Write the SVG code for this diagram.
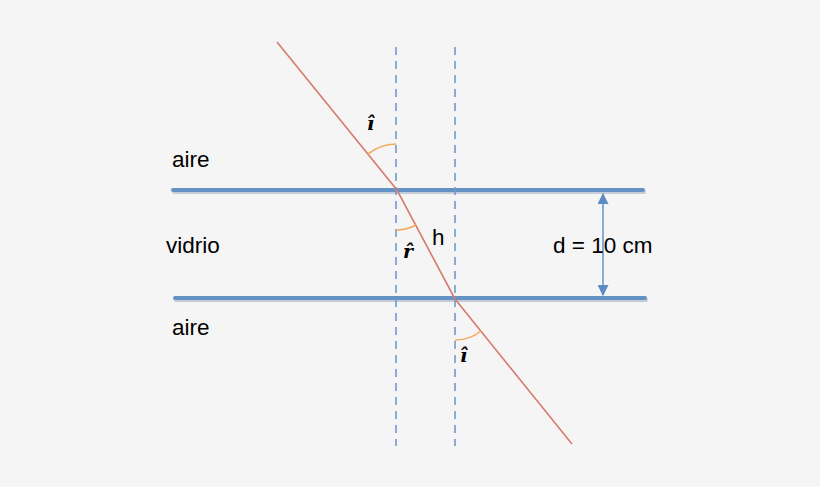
<svg xmlns="http://www.w3.org/2000/svg" width="820" height="487" viewBox="0 0 820 487">
<defs>
<style>
.lbl{font-family:"Liberation Sans",Arial,sans-serif;font-size:22.5px;fill:#000}
.ang{font-family:"DejaVu Serif",serif;font-style:italic;font-weight:bold;font-size:19px;fill:#000}
.surf{stroke:#6592c4;stroke-width:4;stroke-linecap:round;fill:none}
.shadow{stroke:#b7c2cf;stroke-width:4;stroke-linecap:round;fill:none;opacity:0.8}
.normal{stroke:#6f9bcc;stroke-width:1.6;stroke-dasharray:8 6;fill:none}
.ray{stroke:#d77a6e;stroke-width:1.6;fill:none}
.arc{stroke:#f5a960;stroke-width:1.6;fill:none}
.dim{stroke:#5b8cc4;stroke-width:1.4;fill:none}
</style>
<marker id="ah" viewBox="0 0 10 10" refX="9" refY="5" markerWidth="11" markerHeight="11" markerUnits="userSpaceOnUse" orient="auto-start-reverse">
<path d="M0,0 L10,5 L0,10 z" fill="#5b8cc4"/>
</marker>
</defs>
<rect width="820" height="487" fill="#f5f5f5"/>
<g id="surfaces">
<line class="shadow" x1="174" y1="192" x2="644" y2="192"/>
<line class="surf" x1="173" y1="190" x2="643" y2="190"/>
<line class="shadow" x1="176" y1="300" x2="646" y2="300"/>
<line class="surf" x1="175" y1="298" x2="645" y2="298"/>
</g>
<g id="normals">
<line class="normal" x1="396" y1="47" x2="396" y2="446"/>
<line class="normal" x1="455" y1="47" x2="455" y2="446"/>
</g>
<g id="connectors">
<polyline class="ray" points="277,42 397,190 455,299 572,444"/>
<line class="dim" x1="603" y1="194" x2="603" y2="295" marker-start="url(#ah)" marker-end="url(#ah)"/>
</g>
<g id="angles">
<path class="arc" d="M368,154 A46,46 0 0 1 396,144"/>
<path class="arc" d="M396,230 A40,40 0 0 0 416,225"/>
<path class="arc" d="M455,340 A41,41 0 0 0 481,331"/>
</g>
<g id="labels">
<text class="lbl" x="172" y="167">aire</text>
<text class="lbl" x="166" y="253">vidrio</text>
<text class="lbl" x="172" y="335">aire</text>
<text class="lbl" x="432" y="245">h</text>
<text class="lbl" x="553" y="253">d = 10 cm</text>
<text class="ang" x="367" y="130">ı̂</text>
<text class="ang" x="403" y="258">r̂</text>
<text class="ang" x="460" y="362">ı̂</text>
</g>
</svg>
